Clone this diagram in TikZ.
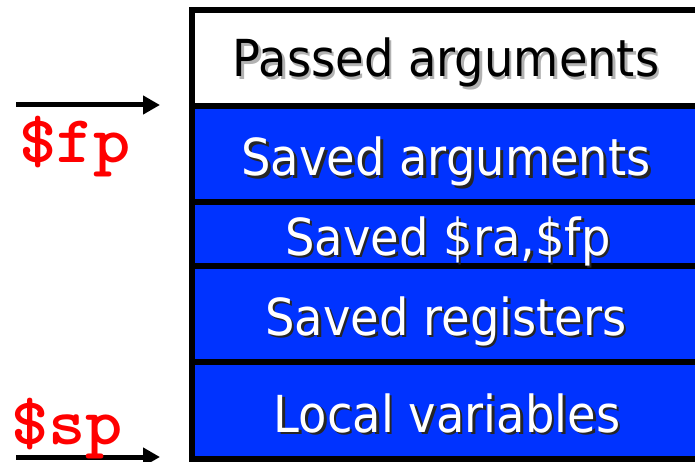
\documentclass[tikz,border=0pt]{standalone}
\usepackage{fontspec}
\usetikzlibrary{arrows.meta}
\newfontfamily\lblfont[FakeStretch=0.91]{DejaVu Sans}
\definecolor{slotblue}{RGB}{0,51,255}
\definecolor{regred}{RGB}{255,0,0}
\tikzset{
  slotline/.style={line width=6pt},
  lbltext/.style={anchor=base, inner sep=0pt, font=\lblfont\fontsize{51}{60}\selectfont},
  whitelbl/.style={lbltext, text=white},
  blacklbl/.style={lbltext, text=black},
  shadowlbl/.style={lbltext, text=black!85},
  greyshadow/.style={lbltext, text=black!30},
  reglbl/.style={anchor=base west, inner sep=0pt, text=regred, font=\ttfamily\bfseries\fontsize{67}{67}\selectfont},
  ptrarrow/.style={line width=5pt, -{Triangle[length=17pt,width=18pt]}},
}
\begin{document}
\begin{tikzpicture}[x=1pt,y=-1pt]
\useasboundingbox (0,0) rectangle (695,462);
\clip (0,0) rectangle (695,462);
\fill[white] (0,0) rectangle (695,462);
% rows
\fill[slotblue] (192,106) rectangle (702,458.5);
\draw[slotline] (702,10) -- (192,10) -- (192,458.5) -- (702,458.5);
\draw[slotline] (192,106) -- (702,106);
\draw[slotline] (192,202) -- (702,202);
\draw[slotline] (192,266) -- (702,266);
\draw[slotline] (192,362) -- (702,362);
% labels
\node[greyshadow] at (448.5,79.5) {Passed arguments};
\node[blacklbl] (passed) at (446,77) {Passed arguments};
\node[shadowlbl] at (449,178.5) {Saved arguments};
\node[whitelbl] (savedargs) at (446,176) {Saved arguments};
\node[shadowlbl] at (450.5,257.5) {Saved \$ra,\$fp};
\node[whitelbl] (savedra) at (448,255) {Saved \$ra,\$fp};
\node[shadowlbl] at (448.5,337.5) {Saved registers};
\node[whitelbl] (savedregs) at (446,335) {Saved registers};
\node[shadowlbl] at (449.5,434.5) {Local variables};
\node[whitelbl] (locals) at (447,432) {Local variables};
% pointers
\coordinate (fptail) at (16,105);
\coordinate (fphead) at (160,105);
\coordinate (sptail) at (16,457);
\coordinate (sphead) at (160,457);
\draw[ptrarrow] (fptail) -- (fphead);
\draw[ptrarrow] (sptail) -- (sphead);
\node[reglbl] (fp) at (19,163) {\scalebox{1.06}[1]{\$fp}};
\node[reglbl] (sp) at (11,444) {\scalebox{1.06}[1]{\$sp}};
\end{tikzpicture}
\end{document}
